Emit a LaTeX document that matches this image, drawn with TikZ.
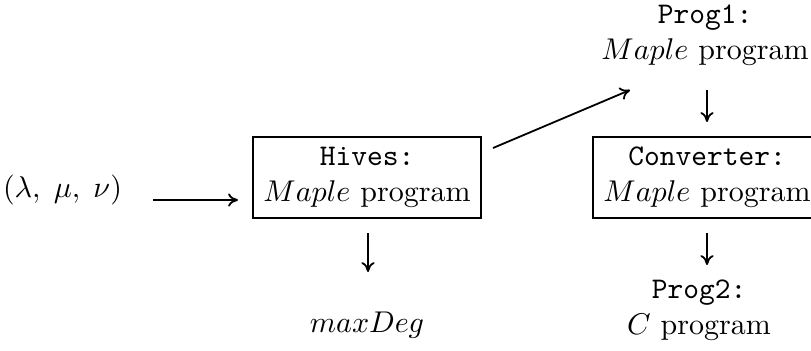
\documentclass[tikz,border=0pt]{standalone}
\usetikzlibrary{arrows.meta}
\begin{document}
\begin{tikzpicture}[x=0.3333pt,y=-0.3333pt,
  box/.style={draw, line width=0.6pt, align=center, inner sep=3.4pt},
  lbl/.style={align=center, inner sep=0pt},
  arr/.style={-{To[length=3.3pt,width=4.4pt]}, line width=0.6pt}]
\useasboundingbox (0,0) rectangle (811,350);
\node[lbl] (in) at (62.5,190) {$(\lambda,\;\mu,\;\nu)$};
\node[box] (hives) at (367,177.5) {\texttt{Hives:}\\ $Maple$ program};
\node[lbl] (maxdeg) at (367,325) {$maxDeg$};
\node[lbl] (prog1) at (705,35) {\texttt{Prog1:}\\ $Maple$ program};
\node[box] (conv) at (707,177.5) {\texttt{Converter:}\\ $Maple$ program};
\node[lbl] (prog2) at (699,310) {\texttt{Prog2:}\\ $C$ program};
\coordinate (a1s) at (153,200); \coordinate (a1e) at (238,200);
\coordinate (a2s) at (493,148); \coordinate (a2e) at (630,90);
\coordinate (a3s) at (368,233); \coordinate (a3e) at (368,272);
\coordinate (a4s) at (707,90);  \coordinate (a4e) at (707,122);
\coordinate (a5s) at (707,233); \coordinate (a5e) at (707,265);
\draw[arr] (a1s) -- (a1e);
\draw[arr] (a2s) -- (a2e);
\draw[arr] (a3s) -- (a3e);
\draw[arr] (a4s) -- (a4e);
\draw[arr] (a5s) -- (a5e);
\end{tikzpicture}
\end{document}
